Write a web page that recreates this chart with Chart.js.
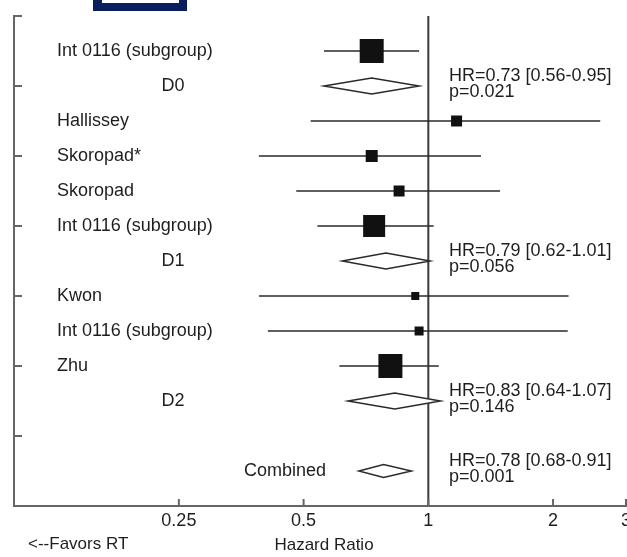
<!DOCTYPE html>
<html>
<head>
<meta charset="utf-8">
<script src="https://cdn.jsdelivr.net/npm/chart.js@4.4.1/dist/chart.umd.min.js"></script>
<style>
  html, body { margin: 0; padding: 0; background: #fff; }
  #wrap { width: 627px; height: 557px; position: relative; }
</style>
</head>
<body>
<div id="wrap"><canvas id="forestCanvas"></canvas></div>
<script>
// rows of the forest plot, top to bottom (row number = y value)
var rowLabels = ["Int 0116 (subgroup)", "D0", "Hallissey", "Skoropad*", "Skoropad",
                 "Int 0116 (subgroup)", "D1", "Kwon", "Int 0116 (subgroup)", "Zhu", "D2", "", "Combined"];
var rowKind   = ["study", "summary", "study", "study", "study",
                 "study", "summary", "study", "study", "study", "summary", "blank", "overall"];
var hazardRatio = [0.73, 0.73, 1.17, 0.73, 0.85, 0.74, 0.79, 0.93, 0.95, 0.81, 0.83, null, 0.78];
var ciLow       = [0.56, 0.56, 0.52, 0.39, 0.48, 0.54, 0.62, 0.39, 0.41, 0.61, 0.64, null, 0.68];
var ciHigh      = [0.95, 0.95, 2.60, 1.34, 1.49, 1.03, 1.01, 2.18, 2.17, 1.06, 1.07, null, 0.91];
var studyWeight = [24, null, 11, 12, 11, 22, null, 8, 9, 24, null, null, null];   // box size ~ weight
var summaryText = [null, ["HR=0.73 [0.56-0.95]", "p=0.021"], null, null, null, null,
                   ["HR=0.79 [0.62-1.01]", "p=0.056"], null, null, null,
                   ["HR=0.83 [0.64-1.07]", "p=0.146"], null,
                   ["HR=0.78 [0.68-0.91]", "p=0.001"]];
var xTickValues = [0.25, 0.5, 1, 2, 3];

var FONT = "'Liberation Sans', Arial, sans-serif";
var TEXT = "#1e1e1e";

// points for the study boxes
var boxPoints = [];
var boxSizes = [];
for (var i = 0; i < rowLabels.length; i++) {
    if (rowKind[i] == "study") {
        boxPoints.push({ x: hazardRatio[i], y: i + 1 });
        boxSizes.push(studyWeight[i]);
    }
}

var forestPlugin = {
    id: "forest",
    beforeDatasetsDraw: function(chart) {
        var ctx = chart.ctx, xs = chart.scales.x, ys = chart.scales.y, area = chart.chartArea;
        ctx.save();
        // line of no effect
        ctx.strokeStyle = "#3a3a3a";
        ctx.lineWidth = 2;
        ctx.beginPath();
        ctx.moveTo(xs.getPixelForValue(1), area.top);
        ctx.lineTo(xs.getPixelForValue(1), area.bottom);
        ctx.stroke();

        // inward ticks on both axes
        ctx.strokeStyle = "#666";
        ctx.lineWidth = 2;
        ys.ticks.forEach(function(t) {
            var y = ys.getPixelForValue(t.value);
            ctx.beginPath(); ctx.moveTo(area.left, y); ctx.lineTo(area.left + 8, y); ctx.stroke();
        });
        xTickValues.forEach(function(v) {
            var x = xs.getPixelForValue(v);
            ctx.beginPath(); ctx.moveTo(x, area.bottom); ctx.lineTo(x, area.bottom - 7); ctx.stroke();
        });

        // confidence intervals and diamonds
        for (var i = 0; i < rowLabels.length; i++) {
            if (hazardRatio[i] == null) continue;
            var y = ys.getPixelForValue(i + 1);
            var xl = xs.getPixelForValue(ciLow[i]), xh = xs.getPixelForValue(ciHigh[i]);
            var xm = xs.getPixelForValue(hazardRatio[i]);
            if (rowKind[i] == "study") {
                ctx.strokeStyle = "#2a2a2a";
                ctx.lineWidth = 1.5;
                ctx.beginPath(); ctx.moveTo(xl, y); ctx.lineTo(xh, y); ctx.stroke();
            } else {
                var h = rowKind[i] == "overall" ? 6.5 : 8;
                ctx.fillStyle = "#fff";
                ctx.strokeStyle = "#2a2a2a";
                ctx.lineWidth = 1.5;
                ctx.beginPath();
                ctx.moveTo(xl, y); ctx.lineTo(xm, y - h); ctx.lineTo(xh, y); ctx.lineTo(xm, y + h);
                ctx.closePath();
                ctx.fill(); ctx.stroke();
            }
        }
        ctx.restore();
    },
    afterDraw: function(chart) {
        var ctx = chart.ctx, xs = chart.scales.x, ys = chart.scales.y, area = chart.chartArea;
        ctx.save();
        ctx.fillStyle = TEXT;
        ctx.font = "18px " + FONT;
        ctx.textBaseline = "middle";
        for (var i = 0; i < rowLabels.length; i++) {
            var y = ys.getPixelForValue(i + 1);
            if (rowKind[i] == "study") {
                ctx.textAlign = "left"; ctx.fillText(rowLabels[i], 57, y);
            } else if (rowKind[i] == "summary") {
                ctx.textAlign = "center"; ctx.fillText(rowLabels[i], 173, y);
            } else if (rowKind[i] == "overall") {
                ctx.textAlign = "right"; ctx.fillText(rowLabels[i], 326, y);
            }
            if (summaryText[i]) {
                ctx.textAlign = "left";
                ctx.fillText(summaryText[i][0], 449, y - 10);
                ctx.fillText(summaryText[i][1], 449, y + 6);
            }
        }
        // axis captions
        ctx.font = "17px " + FONT;
        ctx.textAlign = "left";
        ctx.fillText("<--Favors RT", 28, area.bottom + 38);
        ctx.textAlign = "center";
        ctx.fillText("Hazard Ratio", (area.left + area.right) / 2 + 4, area.bottom + 39);

        // cropped frame at the top edge
        ctx.fillStyle = "#0b1f5e";
        ctx.fillRect(93, 0, 94, 11);
        ctx.fillStyle = "#fff";
        ctx.fillRect(102, 0, 77, 3);
        ctx.restore();
    }
};

var canvas = document.getElementById("forestCanvas");

new Chart(canvas, {
    type: "scatter",
    data: {
        datasets: [{
            data: boxPoints,
            pointStyle: "rect",
            pointRadius: boxSizes.map(function(s) { return s / Math.SQRT2; }),
            backgroundColor: "#111",
            borderWidth: 0
        }]
    },
    options: {
        responsive: true,
        maintainAspectRatio: false,
        animation: false,
        layout: { autoPadding: false, padding: { top: 16, right: 1, left: 0, bottom: 0 } },
        plugins: { legend: { display: false }, tooltip: { enabled: false } },
        scales: {
            x: {
                type: "logarithmic",
                min: 0.1,
                max: 3,
                afterBuildTicks: function(s) {
                    s.ticks = xTickValues.map(function(v) { return { value: v }; });
                },
                afterFit: function(s) {
                    s.height = 51;
                    s.paddingLeft = 0;
                    s.paddingRight = 0;
                },
                ticks: {
                    autoSkip: false,
                    maxRotation: 0,
                    padding: 4,
                    color: TEXT,
                    font: { family: FONT, size: 18 },
                    callback: function(v) { return String(v); }
                },
                grid: { drawOnChartArea: false, drawTicks: false },
                border: { color: "#666", width: 2 }
            },
            y: {
                type: "linear",
                min: 0,
                max: 14,
                reverse: true,
                afterFit: function(s) { s.width = 14; },
                ticks: { display: false, stepSize: 2 },
                grid: { drawOnChartArea: false, drawTicks: false },
                border: { color: "#666", width: 2 }
            }
        }
    },
    plugins: [forestPlugin]
});
</script>
</body>
</html>
